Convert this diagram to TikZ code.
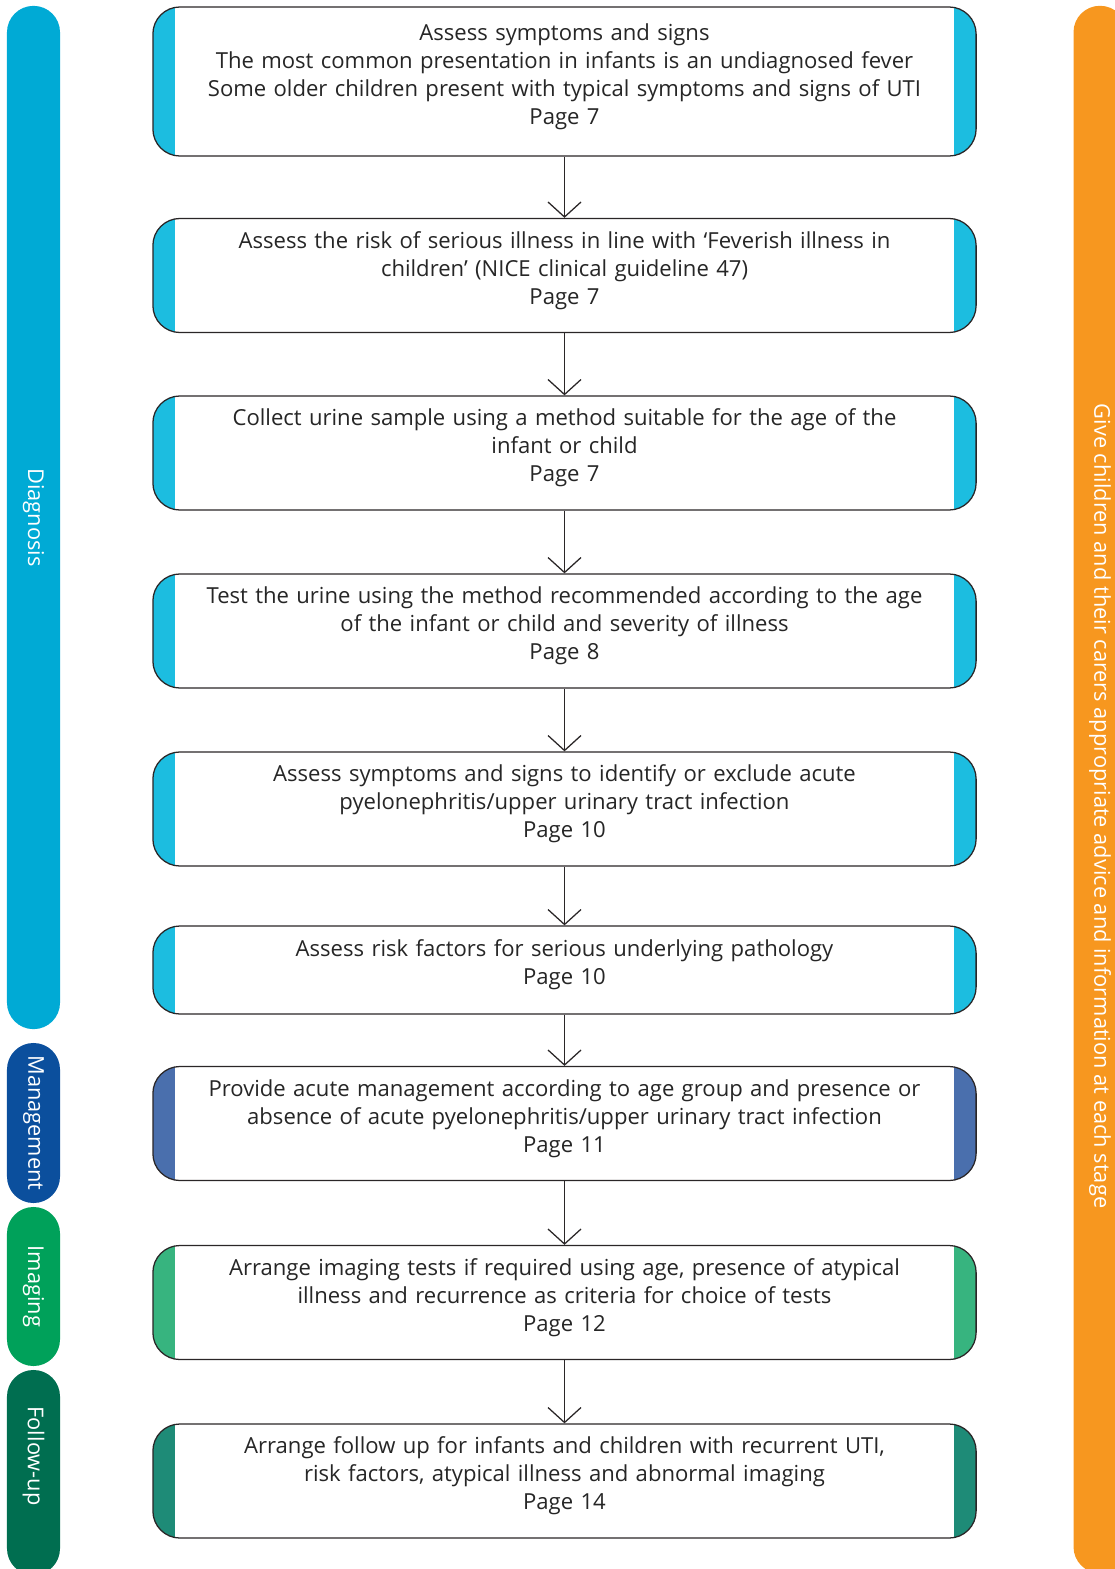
\documentclass[tikz,border=0pt]{standalone}
\usepackage{fontspec}
\setmainfont{Open Sans}
\usepackage{tikz}
\usetikzlibrary{arrows.meta}
\definecolor{boxline}{HTML}{2A2627}
\definecolor{diagbar}{HTML}{00AAD5}
\definecolor{diagstrip}{HTML}{1CBDE0}
\definecolor{managebar}{HTML}{0B4F9D}
\definecolor{managestrip}{HTML}{4A6FAD}
\definecolor{imagebar}{HTML}{00A15A}
\definecolor{imagestrip}{HTML}{37B47F}
\definecolor{followbar}{HTML}{006E50}
\definecolor{followstrip}{HTML}{1E8B77}
\definecolor{advicebar}{HTML}{F7971F}
\newcommand\stagegap{\par\vspace{0.25cm}}

\begin{document}
\begin{tikzpicture}[x=0.025cm, y=-0.025cm,
  stage/.style={draw=boxline, line width=0.9pt, fill=white, rounded corners=0.675cm,
    minimum width=20.575cm, minimum height=2.85cm, text width=20.3cm, align=center,
    inner sep=0pt, font=\fontsize{15.7}{19.9}\selectfont, text=black!85,
    execute at end node=\stagegap,
    path picture={
      \fill[#1, sharp corners] (path picture bounding box.north west) rectangle ([xshift=0.55cm]path picture bounding box.south west);
      \fill[#1, sharp corners] (path picture bounding box.north east) rectangle ([xshift=-0.55cm]path picture bounding box.south east);}},
  bar/.style={fill=#1, rounded corners=0.66cm, rotate=-90, minimum height=1.325cm,
    inner sep=0pt, text=white, font=\fontsize{15.5}{18}\selectfont},
  lbl/.style={rotate=-90, inner sep=0pt, text=white, font=\fontsize{15.5}{18}\selectfont},
  flow/.style={draw=boxline, line width=0.9pt, -{Straight Barb[length=0.375cm, width=0.825cm]}}]
\useasboundingbox (0,0) rectangle (1115,1569);
\clip (0,0) rectangle (1115,1569);

% side bars
\node[bar=diagbar, minimum width=25.575cm] (diagnosis) at (33.5,517.5) {Diagnosis};
\node[bar=managebar, minimum width=4cm] (management) at (33.5,1123) {Management};
\node[bar=imagebar, minimum width=3.975cm] (imaging) at (33.5,1286.5) {Imaging};
\node[bar=followbar, minimum width=5.125cm] (followup) at (33.5,1472.5) {};
\node[lbl] (followlbl) at (33.5,1456) {Follow-up};
\node[bar=advicebar, minimum width=39.175cm] (advice) at (1100,789.5) {};
\node[lbl] (advicelbl) at (1100,806) {Give children and their carers appropriate advice and information at each stage};

% pathway
\node[stage=diagstrip, minimum height=3.725cm] (symptoms) at (564.5,81.5)
  {Assess symptoms and signs\\The most common presentation in infants is an undiagnosed fever\\Some older children present with typical symptoms and signs of UTI\\Page 7};
\node[stage=diagstrip] (risk) at (564.5,275.5)
  {Assess the risk of serious illness in line with ‘Feverish illness in\\children’ (NICE clinical guideline 47)\\Page 7};
\node[stage=diagstrip] (collect) at (564.5,453)
  {Collect urine sample using a method suitable for the age of the\\infant or child\\Page 7};
\node[stage=diagstrip] (test) at (564.5,631)
  {Test the urine using the method recommended according to the age\\of the infant or child and severity of illness\\Page 8};
\node[stage=diagstrip] (upper) at (564.5,809)
  {Assess symptoms and signs to identify or exclude acute\\pyelonephritis/upper urinary tract infection\\Page 10};
\node[stage=diagstrip, minimum height=2.2cm] (pathology) at (564.5,970)
  {Assess risk factors for serious underlying pathology\\Page 10};
\node[stage=managestrip] (acute) at (564.5,1123.5)
  {Provide acute management according to age group and presence or\\absence of acute pyelonephritis/upper urinary tract infection\\Page 11};
\node[stage=imagestrip] (tests) at (564.5,1302.5)
  {Arrange imaging tests if required using age, presence of atypical\\illness and recurrence as criteria for choice of tests\\Page 12};
\node[stage=followstrip] (follow) at (564.5,1481)
  {Arrange follow up for infants and children with recurrent UTI,\\risk factors, atypical illness and abnormal imaging\\Page 14};

\foreach \a/\b in {symptoms/risk, risk/collect, collect/test, test/upper, upper/pathology,
                   pathology/acute, acute/tests, tests/follow}
  \draw[flow] (\a) -- (\b);
\end{tikzpicture}
\end{document}
